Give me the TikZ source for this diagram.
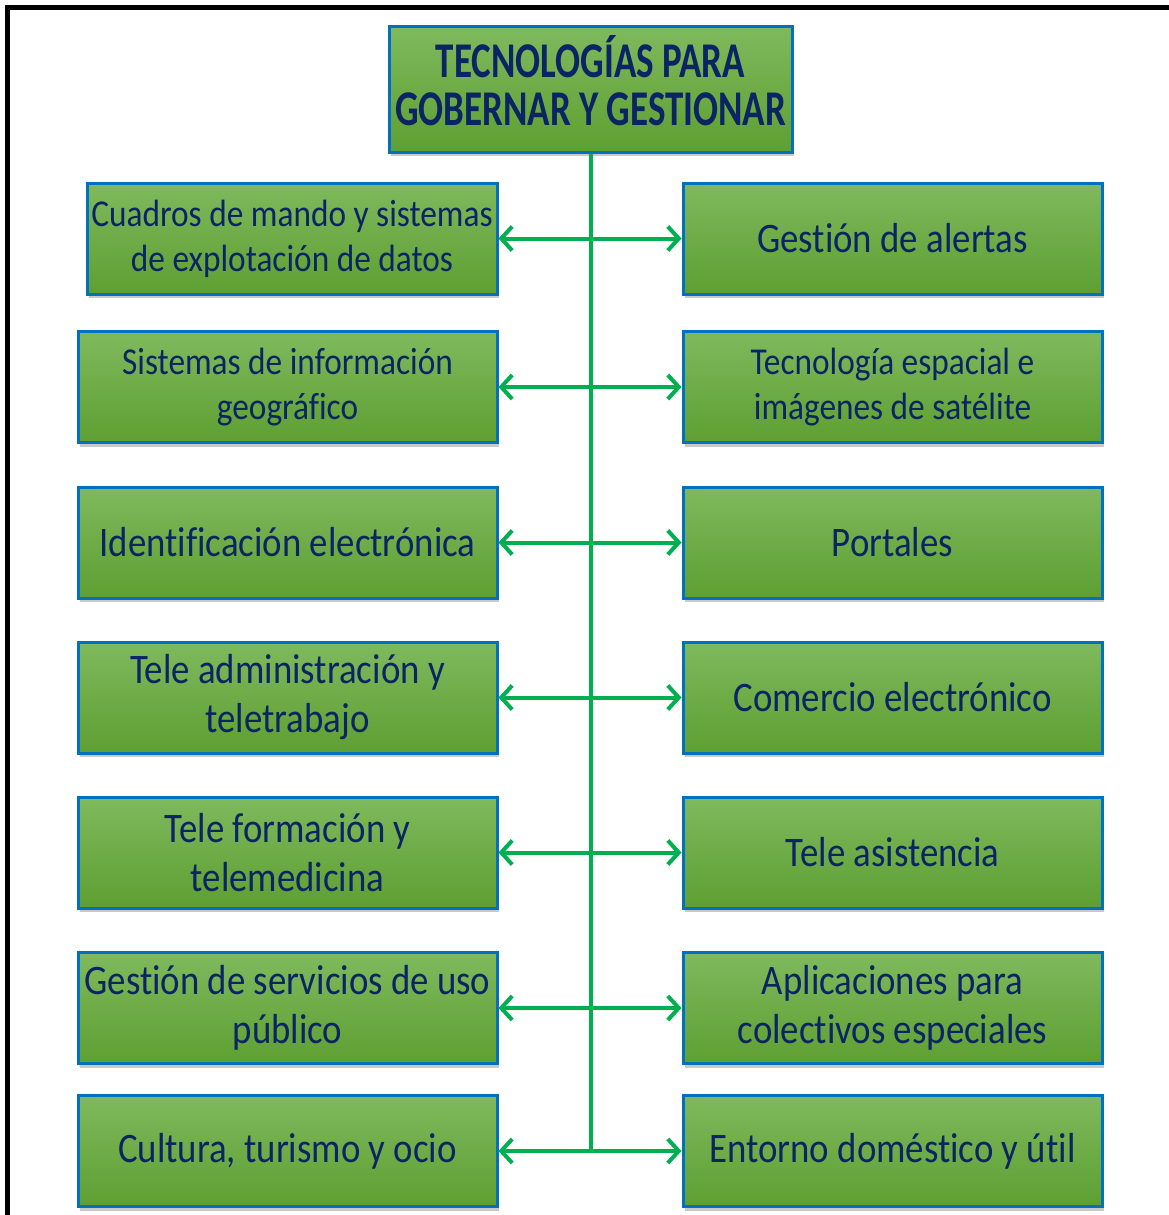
\documentclass[tikz,border=0pt]{standalone}
\usepackage{fontspec}
\setmainfont{Carlito}[FakeStretch=0.877,Ligatures=NoCommon]
\newfontfamily\titlefont{Carlito}[FakeStretch=0.74,Ligatures=NoCommon]
\usetikzlibrary{arrows.meta,shadows,positioning}
\definecolor{boxblue}{HTML}{0070C0}
\definecolor{boxtop}{HTML}{7FB95D}
\definecolor{boxbot}{HTML}{5E9F32}
\definecolor{linkgreen}{HTML}{00B050}
\definecolor{textnavy}{HTML}{0B2463}
\tikzset{
  techbox/.style={draw=boxblue,line width=3pt,top color=boxtop,bottom color=boxbot,
    minimum width=419pt,minimum height=111pt,inner sep=0pt,align=center,text=textnavy,
    font=\fontsize{42}{49}\selectfont,
    drop shadow={shadow xshift=2pt,shadow yshift=-4pt,opacity=0.35,fill=black!60}},
  smalltext/.style={font=\fontsize{38}{45}\selectfont},
  link/.style={draw=linkgreen,line width=4pt,
    {Straight Barb[length=11pt,width=24pt]}-{Straight Barb[length=11pt,width=24pt]}}
}
\begin{document}
\begin{tikzpicture}[x=1pt,y=-1pt]
\clip (0,0) rectangle (1169,1215);
\useasboundingbox (0,0) rectangle (1169,1215);
\fill[white] (0,0) rectangle (1169,1215);
\draw[line width=5pt] (7.5,1300) |- (1300,7.5);
% title
\node[techbox,minimum width=403pt,minimum height=125pt,text depth=18pt,
  font=\titlefont\bfseries\fontsize{50}{48}\selectfont] (T) at (590.5,89.5)
  {TECNOLOGÍAS PARA\\GOBERNAR Y GESTIONAR};
% left column
\node[techbox,smalltext,minimum width=410pt] (L1) at (292,238.5) {Cuadros de mando y sistemas\\de explotación de datos};
\node[techbox,smalltext] (L2) at (287.5,387) {Sistemas de información\\geográfico};
\node[techbox] (L3) at (287.5,542.5) {Identificación electrónica};
\node[techbox] (L4) at (287.5,697.5) {Tele administración y\\teletrabajo};
\node[techbox] (L5) at (287.5,852.5) {Tele formación y\\telemedicina};
\node[techbox] (L6) at (287.5,1008) {Gestión de servicios de uso\\público};
\node[techbox] (L7) at (287.5,1151) {Cultura, turismo y ocio};
% right column
\node[techbox] (R1) at (892.5,238.5) {Gestión de alertas};
\node[techbox,smalltext] (R2) at (892.5,387) {Tecnología espacial e\\imágenes de satélite};
\node[techbox] (R3) at (892.5,542.5) {Portales};
\node[techbox] (R4) at (892.5,697.5) {Comercio electrónico};
\node[techbox] (R5) at (892.5,852.5) {Tele asistencia};
\node[techbox] (R6) at (892.5,1008) {Aplicaciones para\\colectivos especiales};
\node[techbox] (R7) at (892.5,1151) {Entorno doméstico y útil};
% spine and links
\coordinate (hub) at (T.south |- L7.east);
\draw[draw=linkgreen,line width=4pt] (T.south) -- (hub);
\foreach \i in {1,...,7}
  \draw[link] (L\i.east) -- (R\i.west);
\end{tikzpicture}
\end{document}
